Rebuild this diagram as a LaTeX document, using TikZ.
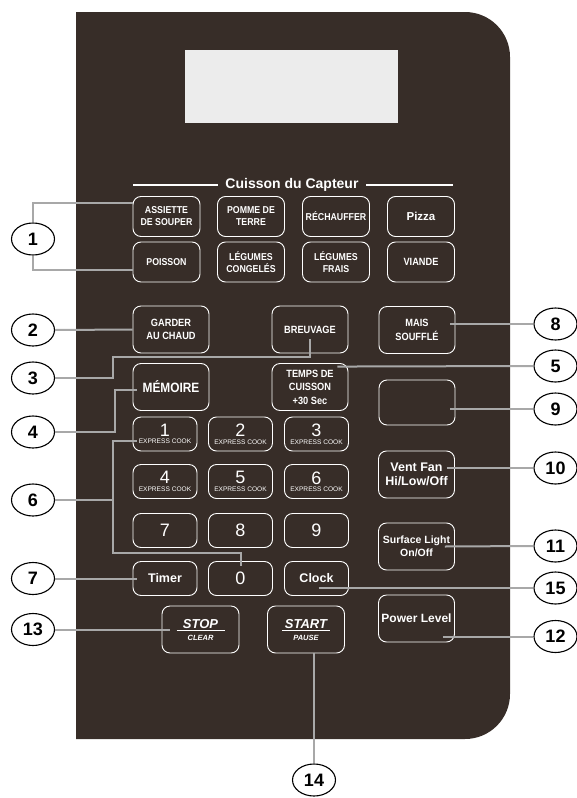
\documentclass[tikz,border=0pt]{standalone}
\usepackage{fontspec}
\setmainfont{Liberation Sans}
\newfontfamily\condfont[FakeStretch=0.88]{Liberation Sans}
\usetikzlibrary{shapes.geometric}
\definecolor{panel}{RGB}{55,45,40}
\definecolor{screen}{RGB}{236,236,236}
\definecolor{leadgray}{RGB}{168,168,168}

\begin{document}
\begin{tikzpicture}[x=1pt,y=-1pt,
    key/.style={draw=white, line width=0.9pt, rounded corners=8pt, text=white, align=center,
        inner sep=0pt, minimum width=67pt, minimum height=40pt,
        font=\condfont\bfseries\fontsize{10}{12}\selectfont},
    widekey/.style={key, minimum width=76pt, minimum height=47pt,
        font=\condfont\bfseries\fontsize{10.5}{13.5}\selectfont},
    numkey/.style={key, minimum width=64pt, minimum height=34pt,
        font=\mdseries\fontsize{6.6}{7.5}\selectfont},
    callout/.style={draw, ellipse, line width=1.1pt, minimum width=43pt, minimum height=32pt,
        inner sep=0pt, font=\bfseries\fontsize{18}{18}\selectfont},
    lead/.style={draw=leadgray, line width=2pt}]
        \useasboundingbox (0,0) rectangle (577,798);

        % panel and display
        \fill[panel] (76,12) -- (465,12) arc[start angle=-90,end angle=0,radius=45]
            -- (510,694) arc[start angle=0,end angle=90,radius=45] -- (76,739) -- cycle;
        \node[fill=screen, minimum width=213pt, minimum height=73pt, inner sep=0pt] (display) at (291.5,86.5) {};

        \node[anchor=base, text=white, font=\bfseries\fontsize{14}{14}\selectfont] (capteur) at (292,188) {Cuisson du Capteur};
        \coordinate (capl) at (133,185);
        \coordinate (capr) at (453,185);
        \draw[white, line width=1.3pt] (capl) -- ([xshift=-4pt]capl -| capteur.west);
        \draw[white, line width=1.3pt] (capr) -- ([xshift=4pt]capr -| capteur.east);

        % sensor keys
        \node[key] (assiette) at (166.5,216.5) {ASSIETTE\\DE SOUPER};
        \node[key] (pomme) at (251,216.5) {POMME DE\\TERRE};
        \node[key] (rechauffer) at (336,216.5) {RÉCHAUFFER};
        \node[key, font=\bfseries\fontsize{11.5}{11.5}\selectfont] (pizza) at (421,216.5) {Pizza};
        \node[key] (poisson) at (166.5,262) {POISSON};
        \node[key] (congeles) at (251,262) {LÉGUMES\\CONGELÉS};
        \node[key] (frais) at (336,262) {LÉGUMES\\FRAIS};
        \node[key, font=\condfont\bfseries\fontsize{10.5}{12}\selectfont] (viande) at (421,262) {VIANDE};

        \node[widekey] (garder) at (171,329.5) {GARDER\\AU CHAUD};
        \node[widekey] (breuvage) at (310,329.5) {BREUVAGE};
        \node[widekey] (mais) at (417,330) {MAIS\\SOUFFLÉ};
        \node[widekey, font=\condfont\bfseries\fontsize{13.5}{13.5}\selectfont] (memoire) at (171,387) {MÉMOIRE};
        \node[widekey] (temps) at (310,387) {TEMPS DE\\CUISSON\\+30 Sec};
        \node[widekey, minimum height=45pt] (blank) at (417,402.5) {};

        % number pad
        \foreach \d/\x/\y in {1/165/434,2/240.5/434,3/316.5/434,4/165/481.5,5/240.5/481.5,6/316.5/481.5}
            \node[numkey] (key\d) at (\x,\y) {{\fontsize{18}{18}\selectfont\d}\\EXPRESS COOK};
        \foreach \d/\x in {7/165,8/240.5,9/316.5}
            \node[numkey, font=\mdseries\fontsize{18}{18}\selectfont] (key\d) at (\x,530.5) {\d};
        \node[numkey, font=\bfseries\fontsize{12.5}{12.5}\selectfont] (timer) at (165,578.5) {Timer};
        \node[numkey, font=\mdseries\fontsize{18}{18}\selectfont] (key0) at (240.5,578.5) {0};
        \node[numkey, font=\bfseries\fontsize{12.5}{12.5}\selectfont] (clock) at (316.5,578.5) {Clock};

        \node[widekey, minimum width=77pt, font=\bfseries\itshape\fontsize{7.5}{9}\selectfont] (stop) at (200.5,629.5)
            {{\fontsize{13}{13}\selectfont STOP}\\[-6pt]\rule{48pt}{0.8pt}\\CLEAR};
        \node[widekey, minimum width=77pt, font=\bfseries\itshape\fontsize{7.5}{9}\selectfont] (start) at (306,629.5)
            {{\fontsize{13}{13}\selectfont START}\\[-6pt]\rule{48pt}{0.8pt}\\PAUSE};

        % right column
        \node[widekey, font=\bfseries\fontsize{12.5}{13.5}\selectfont] (ventfan) at (416.5,474.5) {Vent Fan\\Hi/Low/Off};
        \node[widekey, font=\bfseries\fontsize{10.5}{13.5}\selectfont] (surface) at (416.5,546.5) {Surface Light\\On/Off};
        \node[widekey, font=\bfseries\fontsize{12}{12}\selectfont] (power) at (416.5,618.5) {Power Level};

        % callouts
        \node[callout] (c1) at (33,239) {1};
        \node[callout] (c2) at (33,330) {2};
        \node[callout] (c3) at (33,378) {3};
        \node[callout] (c4) at (33,432) {4};
        \node[callout] (c6) at (33,500) {6};
        \node[callout] (c7) at (33,578.5) {7};
        \node[callout] (c13) at (33,629.5) {13};
        \node[callout] (c8) at (555.5,324) {8};
        \node[callout] (c5) at (555.5,366) {5};
        \node[callout] (c9) at (555.5,409) {9};
        \node[callout] (c10) at (555.5,468) {10};
        \node[callout] (c11) at (555.5,546) {11};
        \node[callout] (c15) at (555.5,588) {15};
        \node[callout] (c12) at (555.5,636.5) {12};
        \node[callout] (c14) at (314,780) {14};

        \coordinate (k3) at (113,357);
        \coordinate (k6) at (113,553);
        \draw[lead] (c1.north) |- ([yshift=13.5pt]assiette.west);
        \draw[lead] (c1.south) |- ([yshift=-8pt]poisson.west);
        \draw[lead] (c2.east) -- (garder.west);
        \draw[lead] (c3.east) -| (k3) -| ([yshift=-9.5pt]breuvage.center);
        \draw[lead] (c4.east) -| ([xshift=-18pt,yshift=-3pt]memoire.west) -- ([xshift=4pt,yshift=-3pt]memoire.west);
        \draw[lead] ([xshift=4pt,yshift=-7pt]key1.west) -| (k6) -| ([yshift=-5pt]key0.north);
        \draw[lead] (c6.east) -- (c6.east -| k6);
        \draw[lead] (c7.east) -- ([xshift=4pt]timer.west);
        \draw[lead] (c13.east) -- ([xshift=8pt]stop.west);
        \draw[lead] ([xshift=8pt]start.south) -- (c14.north);
        \draw[lead] ([xshift=-5pt,yshift=6pt]mais.east) -- (c8.west);
        \draw[lead] ([xshift=-11pt,yshift=-3.5pt]temps.north east) -- (c5.west);
        \draw[lead] ([xshift=-5pt,yshift=-6.5pt]blank.east) -- (c9.west);
        \draw[lead] ([xshift=-8pt,yshift=6.5pt]ventfan.east) -- (c10.west);
        \draw[lead] ([xshift=-10pt]surface.east) -- (c11.west);
        \draw[lead] ([xshift=2pt,yshift=-9.5pt]clock.center) -- (c15.west);
        \draw[lead] ([xshift=-12pt,yshift=-18pt]power.east) -- (c12.west);
\end{tikzpicture}
\end{document}
